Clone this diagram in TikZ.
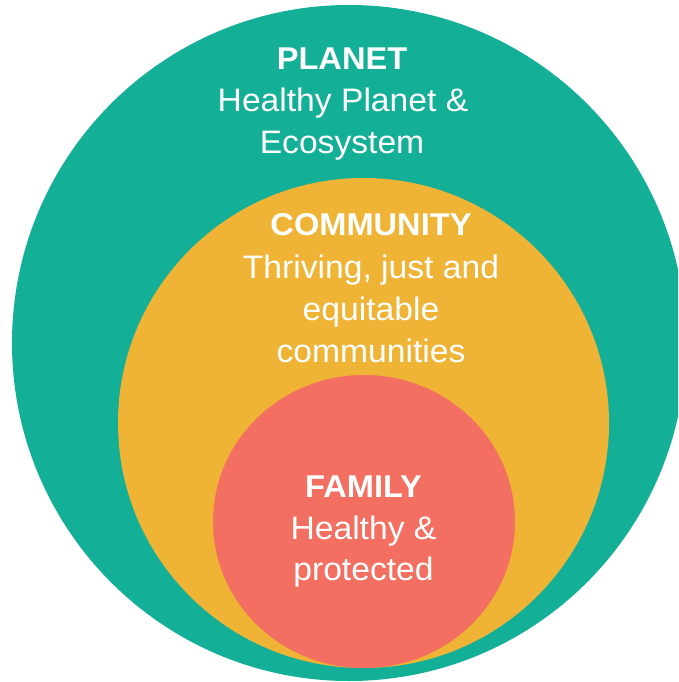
\documentclass[tikz,border=0pt]{standalone}
\usepackage{fontspec}
\setmainfont{Liberation Sans}[FakeStretch=1.035]
\definecolor{planetgreen}{RGB}{20,175,151}
\definecolor{commyellow}{RGB}{239,179,53}
\definecolor{famred}{RGB}{243,111,97}
\begin{document}
\begin{tikzpicture}[x=1pt,y=-1pt,
  txt/.style={text=white,font=\fontsize{32.5}{40}\selectfont,anchor=base,inner sep=0pt},
  ttl/.style={text=white,font=\fontsize{31.5}{40}\selectfont\bfseries,anchor=base,inner sep=0pt}]
\useasboundingbox (0,0) rectangle (678,682);
\clip (0,0) rectangle (678,682);
\fill[planetgreen] (349,343) ellipse [x radius=337, y radius=338];
\fill[commyellow] (363.5,423) ellipse [x radius=245.5, y radius=245];
\fill[famred] (364,521.5) ellipse [x radius=151, y radius=146.5];
\node[ttl] (planet) at (342,70) {PLANET};
\node[txt] (planet1) at (343,111) {Healthy Planet \&};
\node[txt] (planet2) at (342,153) {Ecosystem};
\node[ttl] (comm) at (371,235) {COMMUNITY};
\node[txt] (comm1) at (371,278) {Thriving, just and};
\node[txt] (comm2) at (371,320) {equitable};
\node[txt] (comm3) at (371,362) {communities};
\node[ttl] (fam) at (363.5,497) {FAMILY};
\node[txt] (fam1) at (363.5,539) {Healthy \&};
\node[txt] (fam2) at (363.5,580) {protected};
\end{tikzpicture}
\end{document}
